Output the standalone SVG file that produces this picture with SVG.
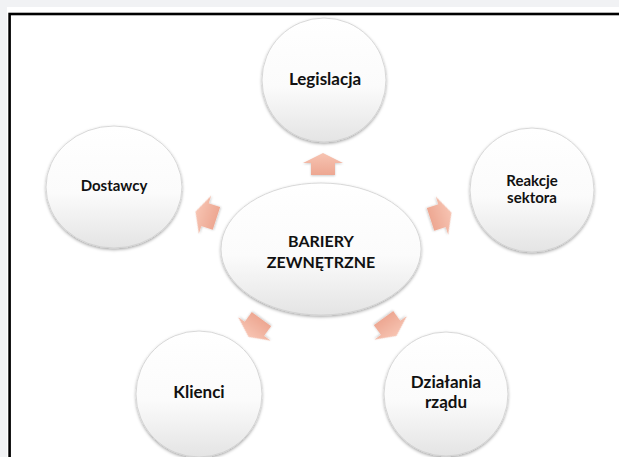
<svg xmlns="http://www.w3.org/2000/svg" width="619" height="457" viewBox="0 0 619 457">
<defs>
<linearGradient id="gNode" x1="0" y1="0" x2="0" y2="1">
<stop offset="0" stop-color="#ffffff"/>
<stop offset="0.55" stop-color="#fbfbfb"/>
<stop offset="1" stop-color="#e4e4e4"/>
</linearGradient>
<linearGradient id="gArrow" x1="0" y1="0" x2="0" y2="1">
<stop offset="0" stop-color="#f7c4b2"/>
<stop offset="1" stop-color="#eda792"/>
</linearGradient>
<filter id="sh" x="-20%" y="-20%" width="140%" height="140%">
<feDropShadow dx="0" dy="1.5" stdDeviation="1.8" flood-color="#000" flood-opacity="0.35"/>
</filter>
<filter id="shA" x="-30%" y="-30%" width="160%" height="160%">
<feDropShadow dx="0" dy="1" stdDeviation="1" flood-color="#000" flood-opacity="0.2"/>
</filter>
<polygon id="arr" points="0,-11 20,-1 12,-1 12,11 -12,11 -12,-1 -20,-1"/>
</defs>
<style>
.node{fill:url(#gNode);stroke:#cfcfcf;stroke-width:0.8;filter:url(#sh)}
.arrow{fill:url(#gArrow);filter:url(#shA)}
text{font-family:Lato,"Open Sans","Liberation Sans",sans-serif;font-weight:bold;fill:#111;text-anchor:middle}
.big{font-size:16px}
.mid{font-size:17px}
.sm{font-size:15px}
</style>
<rect x="0" y="0" width="619" height="457" fill="#f1f2f4"/>
<rect x="7" y="7" width="612" height="450" fill="#ffffff"/>
<rect x="9.6" y="14" width="700" height="700" fill="#ffffff" stroke="#000" stroke-width="2.6"/>

<g id="connectors">
<use href="#arr" class="arrow" transform="translate(323,164)"/>
<use href="#arr" class="arrow" transform="translate(441,216) rotate(72)"/>
<use href="#arr" class="arrow" transform="translate(390,327) rotate(144)"/>
<use href="#arr" class="arrow" transform="translate(255,328) rotate(216)"/>
<use href="#arr" class="arrow" transform="translate(206,215) rotate(288)"/>
</g>

<g id="center">
<ellipse class="node" cx="321" cy="249" rx="100" ry="66"/>
<text class="big" x="321" y="247">BARIERY</text>
<text class="big" x="321" y="268">ZEWNĘTRZNE</text>
</g>
<g id="legislacja">
<circle class="node" cx="324" cy="80" r="62"/>
<text class="mid" x="325" y="85">Legislacja</text>
</g>
<g id="reakcje">
<circle class="node" cx="532" cy="190" r="62"/>
<text class="sm" x="532" y="186">Reakcje</text>
<text class="sm" x="532" y="203">sektora</text>
</g>
<g id="dzialania">
<circle class="node" cx="446" cy="394" r="62"/>
<text class="mid" x="446" y="388">Działania</text>
<text class="mid" x="446" y="408">rządu</text>
</g>
<g id="klienci">
<circle class="node" cx="199" cy="394" r="63"/>
<text class="mid" x="199" y="398">Klienci</text>
</g>
<g id="dostawcy">
<ellipse class="node" cx="114" cy="187" rx="68" ry="61"/>
<text class="sm" x="114" y="191">Dostawcy</text>
</g>
</svg>
